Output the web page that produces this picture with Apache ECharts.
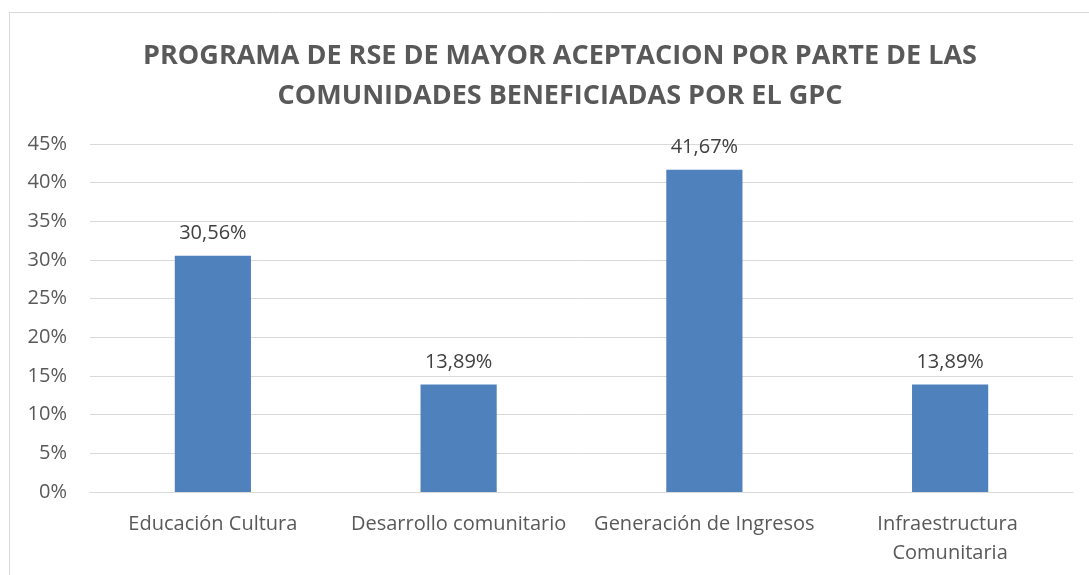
<!DOCTYPE html>
<html lang="es">
<head>
    <meta charset="UTF-8">
    <title>Programa de RSE</title>
    <style>
        html, body { margin: 0; padding: 0; background: #fff; }
        #chart { width: 1089px; height: 575px; }
    </style>
</head>
<body>
    <div id="chart"></div>
    <script src="https://cdn.jsdelivr.net/npm/echarts@6/dist/echarts.min.js"></script>
    <script>
        let categories = ['Educación Cultura', 'Desarrollo comunitario', 'Generación de Ingresos', 'Infraestructura Comunitaria']
        let values = [30.56, 13.89, 41.67, 13.89]
        let titleLines = ['PROGRAMA DE RSE DE MAYOR ACEPTACION POR PARTE DE LAS', 'COMUNIDADES BENEFICIADAS POR EL GPC']

        let chart = echarts.init(document.getElementById('chart'))
        let font = 'Open Sans'

        let option = {
            animation: false,
            title: {
                text: titleLines.join('\n'),
                left: 555,
                textAlign: 'center',
                top: 31,
                textStyle: {
                    fontFamily: font,
                    fontSize: 27,
                    fontWeight: 'bold',
                    color: '#595959',
                    lineHeight: 40
                }
            },
            graphic: [{
                type: 'rect',
                shape: { x: 9.5, y: 12.5, width: 1200, height: 700 },
                style: { fill: 'none', stroke: '#d9d9d9', lineWidth: 1 },
                silent: true
            }],
            grid: { left: 90, right: 16, top: 144, bottom: 83 },
            xAxis: {
                type: 'category',
                data: categories,
                axisTick: { show: false },
                axisLine: { show: true, lineStyle: { color: '#d9d9d9' } },
                axisLabel: {
                    interval: 0,
                    fontFamily: font,
                    fontSize: 20,
                    color: '#595959',
                    margin: 18,
                    width: 240,
                    overflow: 'break',
                    lineHeight: 29
                }
            },
            yAxis: {
                type: 'value',
                min: 0,
                max: 45,
                interval: 5,
                axisLine: { show: false },
                axisTick: { show: false },
                splitLine: { lineStyle: { color: '#d9d9d9', width: 1 } },
                axisLabel: {
                    formatter: '{value}%',
                    fontFamily: font,
                    fontSize: 20,
                    color: '#595959',
                    margin: 23
                }
            },
            series: [{
                type: 'bar',
                data: values,
                barWidth: '31%',
                itemStyle: { color: '#4f81bd' },
                label: {
                    show: true,
                    position: 'top',
                    distance: 12,
                    fontFamily: font,
                    fontSize: 20,
                    color: '#404040',
                    formatter: p => p.value.toFixed(2).replace('.', ',') + '%'
                }
            }]
        }
        chart.setOption(option)
    </script>
</body>
</html>
